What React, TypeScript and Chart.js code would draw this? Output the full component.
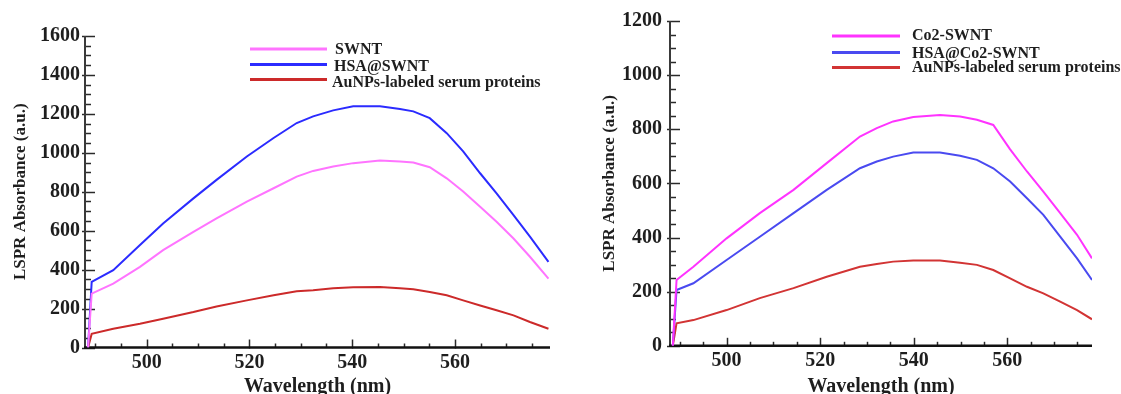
import React, { useEffect, useRef } from 'react';
import { Chart, registerables } from 'chart.js';

Chart.register(...registerables);

// ---------- data ----------
const leftWavelength = [488.6, 489.3, 493.5, 498.7, 503.2, 509.1, 513.6, 519.5, 524.7, 529.2, 532.4, 536.3, 540.2, 545.4, 549.3, 551.9, 555.1, 558.4, 561.6, 564.9, 568.1, 571.4, 574.6, 578.2];
const leftSWNT = [0, 277, 328, 414, 500, 594, 663, 749, 818, 878, 907, 930, 947, 960, 955, 950, 926, 869, 801, 723, 646, 560, 466, 354];
const leftHSASWNT = [0, 337, 397, 526, 637, 766, 861, 981, 1076, 1153, 1187, 1218, 1239, 1239, 1225, 1213, 1178, 1101, 1007, 895, 792, 680, 569, 440];
const leftAuNPs = [0, 70, 96, 122, 148, 182, 211, 242, 268, 289, 294, 304, 309, 311, 304, 299, 285, 268, 242, 216, 191, 165, 131, 96];

const rightWavelength = [488.5, 489.3, 492.9, 500.0, 507.1, 514.3, 521.4, 528.5, 532.1, 535.6, 539.9, 545.6, 549.9, 553.5, 557.0, 560.6, 564.2, 567.7, 571.3, 574.9, 578.1];
const rightCo2SWNT = [0, 243, 292, 397, 490, 576, 675, 773, 804, 829, 845, 853, 847, 835, 816, 726, 644, 570, 490, 410, 323];
const rightHSACo2SWNT = [0, 206, 231, 317, 403, 490, 576, 656, 681, 699, 714, 714, 702, 687, 656, 607, 545, 484, 403, 323, 243];
const rightAuNPs = [0, 83, 95, 132, 176, 213, 255, 292, 302, 311, 315, 315, 307, 299, 280, 249, 218, 194, 163, 132, 98];

const leftLabels = ['SWNT', 'HSA@SWNT', 'AuNPs-labeled serum proteins'];
const rightLabels = ['Co2-SWNT', 'HSA@Co2-SWNT', 'AuNPs-labeled serum proteins'];

const xTickStep = 20;
const xMinorStep = 5;
const leftYTickStep = 200;
const rightYTickStep = 200;
const yMinorStep = 50;

const SERIF = "'Liberation Serif', 'Times New Roman', serif";
const TEXT = '#1e1e1e';

// ---------- plugins ----------
const sciAxes = {
  id: 'sciAxes',
  beforeDatasetsDraw(chart: any) {
    const { ctx, chartArea: a, scales } = chart;
    const xs = scales.x;
    const ys = scales.y;
    const o = chart.options.plugins.sciAxes;
    ctx.save();
    ctx.strokeStyle = '#2a2a2a';
    ctx.lineWidth = 1.5;
    for (let v = Math.ceil(xs.min / o.xMinor) * o.xMinor; v <= xs.max + 1e-9; v += o.xMinor) {
      const px = Math.round(xs.getPixelForValue(v)) + 0.5;
      const major = Math.abs(v / o.xMajor - Math.round(v / o.xMajor)) < 1e-6;
      ctx.beginPath();
      ctx.moveTo(px, a.bottom + (major ? 1 : 0));
      ctx.lineTo(px, a.bottom - (major ? 8 : 4));
      ctx.stroke();
    }
    for (let v = 0; v <= ys.max + 1e-9; v += o.yMinor) {
      const py = Math.round(ys.getPixelForValue(v)) + 0.5;
      const major = Math.abs(v / o.yMajor - Math.round(v / o.yMajor)) < 1e-6;
      ctx.beginPath();
      ctx.moveTo(a.left - (major ? 3 : 0), py);
      ctx.lineTo(a.left + (major ? 10 : 6), py);
      ctx.stroke();
    }
    ctx.strokeStyle = '#3a3a3a';
    ctx.lineWidth = 2;
    ctx.beginPath();
    ctx.moveTo(a.left, a.top);
    ctx.lineTo(a.left, a.bottom);
    ctx.stroke();
    ctx.strokeStyle = '#111';
    ctx.lineWidth = 2.5;
    ctx.beginPath();
    ctx.moveTo(a.left - 1, a.bottom);
    ctx.lineTo(a.right, a.bottom);
    ctx.stroke();
    ctx.restore();
  },
};

const sciLegend = {
  id: 'sciLegend',
  afterDraw(chart: any) {
    const o = chart.options.plugins.sciLegend;
    const ctx = chart.ctx;
    ctx.save();
    chart.data.datasets.forEach((ds: any, i: number) => {
      ctx.strokeStyle = ds.borderColor;
      ctx.lineWidth = 3;
      ctx.beginPath();
      ctx.moveTo(o.x0, o.lineY[i]);
      ctx.lineTo(o.x1, o.lineY[i]);
      ctx.stroke();
      ctx.fillStyle = TEXT;
      ctx.font = o.font;
      ctx.textBaseline = 'middle';
      ctx.textAlign = 'left';
      ctx.fillText(ds.label, o.textX[i], o.textY[i]);
    });
    ctx.restore();
  },
};

function series(xs: number[], ys: number[]) {
  return xs.map((x, i) => ({ x, y: ys[i] }));
}

function makeConfig(p: any) {
  return {
    type: 'line',
    data: {
      datasets: p.series.map((s: any) => ({
        label: s.label,
        data: series(p.wl, s.values),
        borderColor: s.color,
        backgroundColor: s.color,
        borderWidth: 2,
        pointRadius: 0,
        tension: 0,
        fill: false,
      })),
    },
    plugins: [sciAxes, sciLegend],
    options: {
      responsive: false,
      animation: false,
      layout: { padding: { top: p.top, right: p.right, left: 0, bottom: 0 } },
      plugins: {
        legend: { display: false },
        tooltip: { enabled: false },
        sciAxes: { xMinor: xMinorStep, xMajor: xTickStep, yMinor: yMinorStep, yMajor: p.yStep },
        sciLegend: p.legend,
      },
      scales: {
        x: {
          type: 'linear',
          min: p.xMin,
          max: p.xMax,
          grid: { display: false, drawTicks: false },
          border: { display: false },
          afterFit: (s: any) => { s.height = p.xHeight; },
          ticks: {
            stepSize: xTickStep,
            includeBounds: false,
            padding: 3,
            color: TEXT,
            font: { family: SERIF, size: 20, weight: 'bold' },
            maxRotation: 0,
            callback: (v: any) => String(v),
          },
          title: {
            display: true,
            text: 'Wavelength (nm)',
            color: TEXT,
            font: { family: SERIF, size: 20, weight: 'bold', lineHeight: 1 },
            padding: { top: 0, bottom: -3 },
          },
        },
        y: {
          type: 'linear',
          min: 0,
          max: p.yMax,
          grid: { display: false, drawTicks: false },
          border: { display: false },
          afterFit: (s: any) => { s.width = p.yWidth; },
          ticks: {
            stepSize: p.yStep,
            padding: p.yTickPad,
            color: TEXT,
            font: { family: SERIF, size: 20, weight: 'bold' },
            callback: (v: any) => String(v),
          },
          title: {
            display: true,
            text: 'LSPR Absorbance (a.u.)',
            color: TEXT,
            font: { family: SERIF, size: 17, weight: 'bold', lineHeight: 1 },
            padding: { top: p.yTitlePad, bottom: 0 },
          },
        },
      },
    },
  };
}

function ChartPanel({ config, width, height, left }: any) {
  const ref = useRef<HTMLCanvasElement | null>(null);
  useEffect(() => {
    if (!ref.current) return;
    const chart = new Chart(ref.current, config);
    return () => chart.destroy();
  }, []);
  return (
    <div style={{ position: 'absolute', left, top: 0, width, height }}>
      <canvas ref={ref} width={width} height={height} style={{ display: 'block' }} />
    </div>
  );
}

const leftConfig = makeConfig({
  wl: leftWavelength,
  series: [
    { label: leftLabels[0], values: leftSWNT, color: '#ff74ff' },
    { label: leftLabels[1], values: leftHSASWNT, color: '#2b2bff' },
    { label: leftLabels[2], values: leftAuNPs, color: '#cc2a2a' },
  ],
  top: 36,
  right: 10,
  xMin: 488.0,
  xMax: 578.5,
  xHeight: 46.5,
  yMax: 1600,
  yStep: leftYTickStep,
  yWidth: 85,
  yTickPad: 5,
  yTitlePad: 12.5,
  legend: {
    x0: 250, x1: 327,
    lineY: [49, 64.5, 79.5],
    textX: [335, 334, 332],
    textY: [49.5, 67, 82.5],
    font: `bold 16px ${SERIF}`,
  },
});

const rightConfig = makeConfig({
  wl: rightWavelength,
  series: [
    { label: rightLabels[0], values: rightCo2SWNT, color: '#ff33ff' },
    { label: rightLabels[1], values: rightHSACo2SWNT, color: '#4a4af0' },
    { label: rightLabels[2], values: rightAuNPs, color: '#d23434' },
  ],
  top: 21,
  right: 29,
  xMin: 487.9,
  xMax: 578.1,
  xHeight: 48.2,
  yMax: 1200,
  yStep: rightYTickStep,
  yWidth: 90,
  yTickPad: 8,
  yTitlePad: 21.5,
  legend: {
    x0: 252, x1: 320,
    lineY: [36, 52.5, 67.5],
    textX: [332, 332, 332],
    textY: [36, 54, 67.5],
    font: `bold 16px ${SERIF}`,
  },
});

export default function App() {
  useEffect(() => {
    document.body.style.margin = '0';
  }, []);
  return (
    <div style={{ position: 'relative', width: 1121, height: 394, overflow: 'hidden', background: '#fff' }}>
      <ChartPanel config={leftConfig} width={560} height={394} left={0} />
      <ChartPanel config={rightConfig} width={541} height={394} left={580} />
    </div>
  );
}
